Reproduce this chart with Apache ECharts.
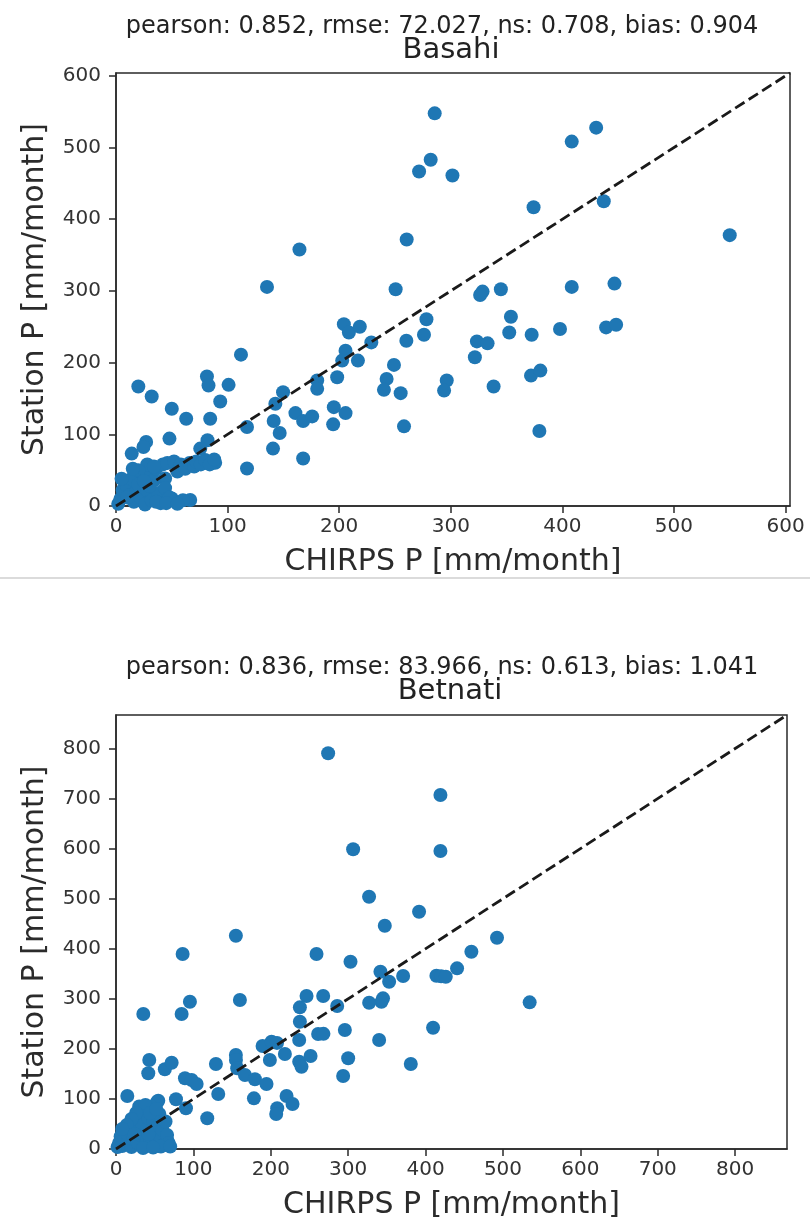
<!DOCTYPE html>
<html>
<head>
<meta charset="utf-8">
<script src="https://cdn.jsdelivr.net/npm/echarts@6/dist/echarts.min.js"></script>
<style>
  html, body { margin: 0; padding: 0; background: #ffffff; }
  #chart { width: 810px; height: 1221px; }
</style>
</head>
<body>
<div id="chart"></div>
<script>
// Monthly precipitation: CHIRPS estimate (x) vs. station gauge (y), mm/month

const basahiName = 'Basahi';
const basahiStats = 'pearson: 0.852, rmse: 72.027, ns: 0.708, bias: 0.904';
const basahiLimit = 604;
const basahiTicks = [0, 100, 200, 300, 400, 500, 600];
const basahiPoints = [
  [285.6, 547.7], [430.3, 527.8], [408.4, 508.3], [282, 482.9], [271.6, 466.7],
  [301.5, 461.1], [374.2, 416.7], [437.1, 425], [550, 377.8], [260.5, 371.8],
  [164.4, 357.9], [135.3, 305.6], [250.6, 302.3], [446.7, 310.2], [408.4, 305.6],
  [344.9, 302.3], [328.5, 299.1], [326.3, 294.4], [353.9, 263.9], [278.2, 260.6],
  [276, 238.9], [260.2, 230.6], [352.4, 242.1], [372.5, 238.9], [397.9, 246.8],
  [439.2, 249.1], [448.2, 252.8], [323.4, 229.6], [333, 226.9], [321.6, 207.4],
  [296.4, 175], [294, 161], [338.4, 166.7], [371.9, 181.9], [380.3, 188.9],
  [379.4, 104.6], [204.2, 253.7], [208.7, 242], [218.5, 250], [228.8, 228.2],
  [205.7, 216.7], [202.7, 202.8], [216.8, 202.8], [249.1, 196.8], [242.5, 177.3],
  [240.1, 162], [255.1, 157.4], [198.2, 179.6], [258.1, 111.1], [180.3, 175],
  [180.3, 163.4], [149.7, 158.8], [142.8, 142.6], [160.8, 129.6], [167.7, 118.5],
  [175.8, 125], [195.2, 137.9], [205.7, 129.6], [194.6, 113.9], [141.3, 118.5],
  [146.7, 101.9], [117.4, 110.2], [140.7, 80.1], [167.7, 66.2], [117.4, 52.3],
  [112, 211.1], [81.5, 180.6], [82.9, 168], [100.9, 169], [93.4, 145.8],
  [20, 166.7], [32, 152.8], [50, 135.7], [62.9, 121.8], [84.4, 121.8],
  [47.9, 94], [27, 89.4], [24.6, 82.4], [14.1, 73.1], [82, 91.7],
  [75.5, 80.1], [88.9, 60.2], [44, 38.4], [66.5, 8.3], [50, 10.6],
  [2, 3], [4, 10], [6, 22], [8, 35], [10, 28], [12, 15], [14, 38], [16, 6],
  [18, 20], [20, 30], [22, 12], [24, 45], [26, 2], [28, 22], [30, 50], [32, 8],
  [34, 36], [36, 52], [38, 18], [40, 4], [42, 58], [44, 25], [46, 60], [48, 12],
  [52, 62], [55, 48], [58, 58], [60, 8], [62, 52], [66, 60], [70, 55], [72, 62],
  [76, 58], [80, 64], [84, 58], [88, 65], [28, 58], [34, 55], [20, 50], [10, 12],
  [5, 38], [15, 52], [36, 6], [45, 4], [55, 3], [30, 28], [25, 35]
];

const betnatiName = 'Betnati';
const betnatiStats = 'pearson: 0.836, rmse: 83.966, ns: 0.613, bias: 1.041';
const betnatiLimit = 867;
const betnatiTicks = [0, 100, 200, 300, 400, 500, 600, 700, 800];
const betnatiPoints = [
  [274.1, 790.5], [419.2, 707.2], [306.4, 598.7], [419.2, 595.3], [327, 504],
  [391.6, 474], [347.3, 446], [154.9, 426.1], [492.3, 422.1], [259.1, 389.5],
  [86.1, 389.5], [459.2, 394.1], [303, 374.2], [440.7, 360.9], [341.7, 354.2],
  [414, 346.2], [420, 345], [426.1, 344.2], [371, 345.6], [352.9, 334.2],
  [345, 301], [343, 294], [534.5, 293], [327.1, 292.3], [409.7, 242.3],
  [340, 217.7], [380.9, 169.8], [246.2, 305.6], [267.7, 305.6], [237.6, 283],
  [285.8, 285.7], [237.6, 254.3], [236.7, 217.7], [261.2, 229.7], [268, 230],
  [295.7, 237.7], [300, 181.2], [293.5, 145.8], [251.4, 185.8], [236.7, 174.4],
  [239.7, 164.4], [189.4, 205.8], [201, 214.3], [208, 212], [198.8, 177.8],
  [218.2, 189.8], [154.9, 187.8], [155, 178], [156.6, 161.2], [129.1, 169.8],
  [166.6, 147.8], [179.5, 139.2], [194.5, 129.8], [178.2, 101.2], [132.1, 109.9],
  [117.9, 61.3], [208.3, 81.3], [207, 70], [220.4, 105.9], [228.1, 89.9],
  [95.5, 294.3], [84.8, 269.7], [35.3, 269.7], [160.1, 297.6], [43, 177.8],
  [41.7, 151.2], [63.1, 159.2], [71.9, 172.4], [89.1, 141.2], [97.7, 137.8],
  [104.2, 129.8], [77.5, 99.3], [90.4, 81.3], [54.6, 96.5], [14.6, 105.9],
  [53.3, 94.5], [63.3, 22], [66, 18],
  [2, 4], [4, 12], [6, 25], [8, 6], [10, 18], [12, 35], [14, 10], [16, 28],
  [18, 45], [20, 4], [22, 20], [24, 55], [26, 38], [28, 12], [30, 68], [32, 28],
  [34, 50], [36, 78], [38, 8], [40, 40], [42, 62], [44, 20], [46, 85], [48, 55],
  [50, 30], [52, 10], [54, 45], [56, 70], [58, 20], [60, 38], [62, 8], [64, 55],
  [66, 28], [68, 12], [30, 85], [38, 88], [26, 72], [20, 60], [14, 48], [8, 40],
  [44, 72], [52, 80], [58, 5], [35, 2], [48, 3], [70, 5], [42, 30], [24, 30]
];

const xLabel = 'CHIRPS P [mm/month]';
const yLabel = 'Station P [mm/month]';

const FONT = 'DejaVu Sans';
const INK = '#2b2b2b';
const DOT = '#1f77b4';

const grids = [
  { left: 116, top: 73, width: 674, height: 433 },
  { left: 116, top: 715, width: 671, height: 434 }
];

function axis(gridIndex, limit, ticks, isX) {
  return {
    type: 'value',
    gridIndex: gridIndex,
    min: 0,
    max: limit,
    name: isX ? xLabel : yLabel,
    nameLocation: 'middle',
    nameGap: isX ? 41 : 66,
    nameTextStyle: { fontFamily: FONT, fontSize: 30, color: INK },
    splitLine: { show: false },
    axisLine: { show: true, onZero: false, lineStyle: { color: '#2a2a2a', width: 1.5 } },
    axisTick: { show: true, length: 7, customValues: ticks, lineStyle: { color: '#2a2a2a', width: 1.5 } },
    axisLabel: { customValues: ticks, fontFamily: FONT, fontSize: 20, color: '#333', margin: isX ? 11 : 15 }
  };
}

function textMark(str, x, y, size) {
  return {
    type: 'text', x: x, y: y, z: 10,
    style: { text: str, font: size + 'px "' + FONT + '"', fill: '#222', align: 'center', verticalAlign: 'middle' }
  };
}

function scatter(i, pts) {
  return {
    type: 'scatter', xAxisIndex: i, yAxisIndex: i, data: pts,
    symbol: 'circle', symbolSize: 14, itemStyle: { color: DOT, opacity: 1 }, z: 2, silent: true
  };
}

function oneToOne(i, limit) {
  return {
    type: 'line', xAxisIndex: i, yAxisIndex: i, data: [[0, 0], [limit, limit]],
    symbol: 'none', silent: true, z: 3,
    lineStyle: { color: '#1a1a1a', width: 2.8, type: [11, 5] }
  };
}

const chart = echarts.init(document.getElementById('chart'), null, { renderer: 'canvas' });
chart.setOption({
  animation: false,
  backgroundColor: '#ffffff',
  grid: grids.map(g => Object.assign({ show: true, borderColor: '#2a2a2a', borderWidth: 1.5, backgroundColor: 'transparent' }, g)),
  xAxis: [axis(0, basahiLimit, basahiTicks, true), axis(1, betnatiLimit, betnatiTicks, true)],
  yAxis: [axis(0, basahiLimit, basahiTicks, false), axis(1, betnatiLimit, betnatiTicks, false)],
  series: [
    scatter(0, basahiPoints), oneToOne(0, basahiLimit),
    scatter(1, betnatiPoints), oneToOne(1, betnatiLimit)
  ],
  graphic: [
    textMark(basahiStats, 442, 27, 24),
    textMark(basahiName, 451, 50, 29),
    textMark(betnatiStats, 442, 668, 24),
    textMark(betnatiName, 450, 691, 29),
    { type: 'line', shape: { x1: 0, y1: 578, x2: 810, y2: 578 }, style: { stroke: '#cfcfcf', lineWidth: 1.5 } }
  ]
});
</script>
</body>
</html>
